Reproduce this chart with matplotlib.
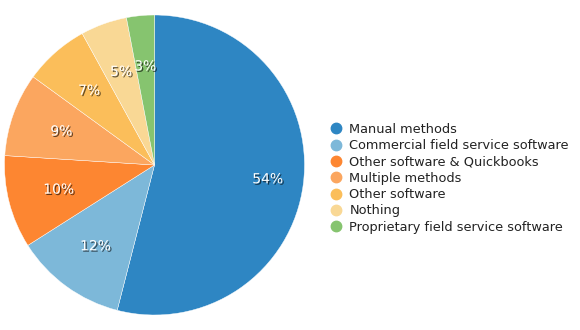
import matplotlib
matplotlib.use("Agg")
import matplotlib.pyplot as plt
import matplotlib.patheffects as pe
from matplotlib.lines import Line2D
import numpy as np

categories = ["Manual methods", "Commercial field service software",
              "Other software & Quickbooks", "Multiple methods",
              "Other software", "Nothing", "Proprietary field service software"]
values = [54, 12, 10, 9, 7, 5, 3]
colors = ["#2e86c3", "#7db8d9", "#fd8631", "#fba65f", "#fbbe5a", "#f9d895", "#86c46f"]
label_dist = [0.76, 0.67, 0.66, 0.66, 0.66, 0.66, 0.66]

W, H = 580, 330
fig = plt.figure(figsize=(W / 100, H / 100), dpi=100)
cx, cy, r = 154.5, 165, 150
ax = fig.add_axes([(cx - r) / W, (H - cy - r) / H, 2 * r / W, 2 * r / H])
wedges, _ = ax.pie(values, colors=colors, startangle=90, counterclock=False,
                   radius=1.0, wedgeprops=dict(edgecolor="white", linewidth=0.3))
ax.set_xlim(-1.0, 1.0)
ax.set_ylim(-1.0, 1.0)
ax.set_aspect("equal")
ax.axis("off")

total = sum(values)
for w, v, d in zip(wedges, values, label_dist):
    ang = np.deg2rad((w.theta1 + w.theta2) / 2)
    t = ax.text(d * np.cos(ang), d * np.sin(ang), f"{round(100 * v / total)}%",
                ha="center", va="center", color="white", fontsize=10,
                family="DejaVu Sans")
    t.set_path_effects([pe.SimplePatchShadow(offset=(1, -1), shadow_rgbFace="black", alpha=0.6),
                        pe.Normal()])

fs = 9.3
handles = [Line2D([], [], marker="o", linestyle="none", markersize=7.5,
                  markerfacecolor=c, markeredgecolor=c) for c in colors]
leg = fig.legend(handles, categories, loc="upper left",
                 bbox_to_anchor=(329.5 / W, 1 - 122.7 / H), frameon=False,
                 fontsize=fs, handlelength=1.0 * 9.5 / fs, handletextpad=0.5 * 9.5 / fs,
                 labelspacing=0.26, borderpad=0, borderaxespad=0)
for t in leg.get_texts():
    t.set_color("#222222")

fig.savefig("out.png", dpi=100)
